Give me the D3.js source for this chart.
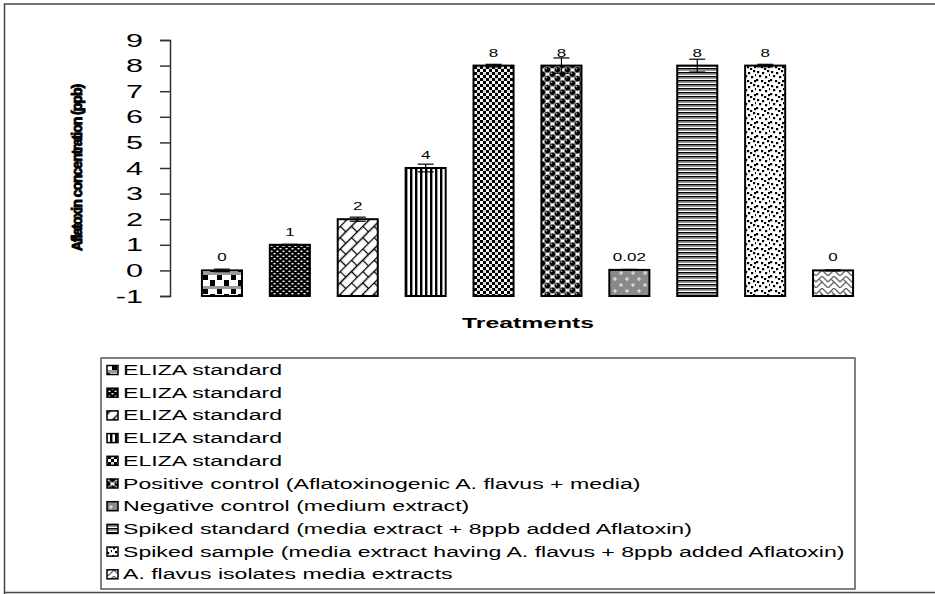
<!DOCTYPE html>
<html>
<head>
<meta charset="utf-8">
<script src="https://cdn.jsdelivr.net/npm/d3@7"></script>
<style>
  html, body { margin: 0; padding: 0; background: #fff; }
  svg { display: block; }
  text { font-family: "Liberation Sans", Arial, Helvetica, sans-serif; fill: #000; }
</style>
</head>
<body>
<svg id="chart" width="935" height="594"></svg>
<script>
// ---------- data ----------
const categories = [
  "ELIZA standard",
  "ELIZA standard",
  "ELIZA standard",
  "ELIZA standard",
  "ELIZA standard",
  "Positive control (Aflatoxinogenic A. flavus + media)",
  "Negative control (medium extract)",
  "Spiked standard (media extract + 8ppb added Aflatoxin)",
  "Spiked sample (media extract having A. flavus + 8ppb added Aflatoxin)",
  "A. flavus isolates media extracts"
];
const values = [0, 1, 2, 4, 8, 8, 0.02, 8, 8, 0];
const errors = [0.05, 0.02, 0.08, 0.15, 0.05, 0.3, 0.02, 0.25, 0.05, 0.02];
const valueLabels = ["0", "1", "2", "4", "8", "8", "0.02", "8", "8", "0"];
const yTicks = [-1, 0, 1, 2, 3, 4, 5, 6, 7, 8, 9];
const yDomain = [-1, 9];
const xTitle = "Treatments";
const yTitle = "Aflatoxin concentration (ppb)";

// ---------- setup ----------
const svg = d3.select("#chart");
const SX = 1.65; // horizontal stretch of the original rendering

function sText(parent, x, y, str, size, anchor, weight, sx) {
  return parent.append("text")
    .attr("transform", `translate(${x},${y}) scale(${sx || SX},1)`)
    .attr("text-anchor", anchor || "start")
    .attr("font-size", size)
    .attr("font-weight", weight || "normal")
    .text(str);
}

// ---------- patterns ----------
const defs = svg.append("defs");
function pat(id, w, h, draw, transform) {
  const p = defs.append("pattern").attr("id", id)
    .attr("patternUnits", "userSpaceOnUse").attr("width", w).attr("height", h);
  if (transform) p.attr("patternTransform", transform);
  p.append("rect").attr("width", w).attr("height", h).attr("fill", "#fff");
  draw(p);
}
// 1 large checker with grey band
pat("p0", 14, 14, p => {
  p.append("rect").attr("x", 0).attr("y", 0).attr("width", 5).attr("height", 6).attr("fill", "#000");
  p.append("rect").attr("x", 0).attr("y", 6).attr("width", 14).attr("height", 3).attr("fill", "#9a9a9a");
  p.append("rect").attr("x", 7).attr("y", 9).attr("width", 5).attr("height", 5).attr("fill", "#000");
});
// 2 black with white dots
pat("p1", 6, 5, p => {
  p.append("rect").attr("width", 6).attr("height", 5).attr("fill", "#000");
  p.append("ellipse").attr("cx", 1.5).attr("cy", 1.2).attr("rx", 1.3).attr("ry", 0.8).attr("fill", "#fff");
  p.append("ellipse").attr("cx", 4.5).attr("cy", 3.7).attr("rx", 1.3).attr("ry", 0.8).attr("fill", "#fff");
});
// 3 diagonal brick
pat("p2", 16, 16, p => {
  p.append("path").attr("d", "M0,0.5H16M0,8.5H16M0.5,0V8.5M8.5,8.5V16")
    .attr("stroke", "#000").attr("stroke-width", 1.3).attr("fill", "none");
}, "rotate(-45)");
// 4 vertical stripes
pat("p3", 5, 5, p => {
  p.append("rect").attr("x", 0).attr("width", 2.4).attr("height", 5).attr("fill", "#000");
});
// 5 small checker
pat("p4", 6, 6, p => {
  p.append("rect").attr("x", 0).attr("y", 0).attr("width", 3).attr("height", 3).attr("fill", "#000");
  p.append("rect").attr("x", 3).attr("y", 3).attr("width", 3).attr("height", 3).attr("fill", "#000");
  p.append("rect").attr("x", 3).attr("y", 0).attr("width", 3).attr("height", 3).attr("fill", "#ddd");
});
// 6 spheres
pat("p5", 10, 9, p => {
  [[2.5, 2.25], [7.5, 6.75], [-2.5, 6.75], [12.5, 2.25], [7.5, -2.25], [2.5, 11.25]].forEach(([cx, cy]) => {
    p.append("circle").attr("cx", cx).attr("cy", cy).attr("r", 3.1).attr("fill", "#000")
      .attr("stroke", "#999").attr("stroke-width", 0.7);
    p.append("circle").attr("cx", cx - 1).attr("cy", cy - 1).attr("r", 0.8).attr("fill", "#bbb");
  });
});
// 7 fine grey with sparkles
pat("p6", 12, 12, p => {
  p.append("rect").attr("width", 12).attr("height", 12).attr("fill", "#8a8a8a");
  p.append("path").attr("d", "M3,1V5M1,3H5M9,7V11M7,9H11").attr("stroke", "#eee").attr("stroke-width", 1);
});
// 8 horizontal stripes
pat("p7", 4, 4, p => {
  p.append("rect").attr("y", 0).attr("width", 4).attr("height", 1.6).attr("fill", "#000");
  p.append("rect").attr("y", 1.6).attr("width", 4).attr("height", 1.4).attr("fill", "#9a9a9a");
});
// 9 confetti
pat("p8", 14, 14, p => {
  [[1, 1], [6, 2], [11, 0], [3, 5], [9, 6], [0, 9], [5, 10], [12, 10], [8, 12], [13, 4]].forEach(([x, y]) => {
    p.append("rect").attr("x", x).attr("y", y).attr("width", 2.2).attr("height", 2.2).attr("fill", "#000");
  });
});
// 10 weave
pat("p9", 12, 12, p => {
  p.append("path").attr("d", "M0,6L6,0L12,6M0,12L6,6L12,12M3,3L9,9M9,3L12,6")
    .attr("stroke", "#666").attr("stroke-width", 1.3).attr("fill", "none");
});

// ---------- frame ----------
svg.append("path").attr("d", "M4.5,594V4H935M4.5,592.5H935")
  .attr("stroke", "#444").attr("stroke-width", 1.5).attr("fill", "none");

// ---------- scales ----------
const y = d3.scaleLinear().domain(yDomain).range([296, 40]);
const x = d3.scaleBand().domain(d3.range(values.length)).range([188, 867])
  .paddingInner(0.41).paddingOuter(0.205);

// y axis
const yAxis = svg.append("g").attr("transform", "translate(170,0)")
  .call(d3.axisLeft(y).tickValues(yTicks).tickSize(10).tickFormat(""));
yAxis.select(".domain").attr("stroke", "#333").attr("stroke-width", 1.5);
yAxis.selectAll(".tick line").attr("stroke", "#333").attr("stroke-width", 1.5);
yTicks.forEach(t => sText(svg, 143, y(t) + 6.5, String(t), 18, "end", "normal", 1.7));

// y title
svg.append("text")
  .attr("transform", `translate(82,${168}) scale(1,1) rotate(-90)`)
  .attr("text-anchor", "middle").attr("font-size", 14).attr("font-weight", "bold")
  .attr("letter-spacing", -1)
  .attr("stroke", "#000").attr("stroke-width", 0.9)
  .text(yTitle);

// bars
const bars = svg.append("g");
values.forEach((v, i) => {
  bars.append("rect")
    .attr("x", x(i)).attr("y", y(v)).attr("width", x.bandwidth()).attr("height", y(yDomain[0]) - y(v))
    .attr("fill", `url(#p${i})`).attr("stroke", "#000").attr("stroke-width", 2);
});
// error bars
values.forEach((v, i) => {
  const cx = x(i) + x.bandwidth() / 2, e = errors[i];
  const g = svg.append("g").attr("stroke", "#000").attr("stroke-width", 1.2);
  g.append("line").attr("x1", cx).attr("x2", cx).attr("y1", y(v + e)).attr("y2", y(v - e));
  g.append("line").attr("x1", cx - 8).attr("x2", cx + 8).attr("y1", y(v + e)).attr("y2", y(v + e));
  g.append("line").attr("x1", cx - 8).attr("x2", cx + 8).attr("y1", y(v - e)).attr("y2", y(v - e));
});
// value labels
values.forEach((v, i) => {
  const cx = x(i) + x.bandwidth() / 2;
  sText(svg, cx, y(v) - 9, valueLabels[i], 10, "middle", "normal", 1.7);
});

// x title
sText(svg, 528, 328, xTitle, 15, "middle", "bold", 1.65);

// ---------- legend ----------
const leg = svg.append("g");
leg.append("rect").attr("x", 101).attr("y", 358).attr("width", 754).attr("height", 231)
  .attr("fill", "#fff").attr("stroke", "#555").attr("stroke-width", 1.5);
categories.forEach((c, i) => {
  const cy = 370 + i * 22.7;
  leg.append("rect").attr("x", 107).attr("y", cy - 4.5).attr("width", 11).attr("height", 9)
    .attr("fill", `url(#p${i})`).attr("stroke", "#000").attr("stroke-width", 1.5);
  sText(leg, 123, cy + 5, c, 14, "start", "normal", 1.65);
});
</script>
</body>
</html>
